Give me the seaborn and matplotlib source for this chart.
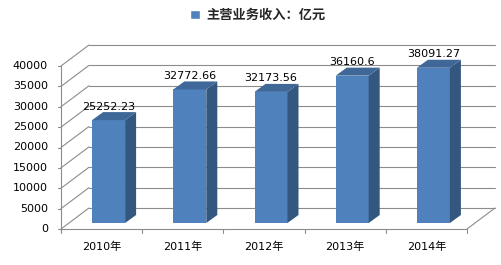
import numpy as np
import pandas as pd
import matplotlib
matplotlib.use("Agg")
import matplotlib.pyplot as plt
from matplotlib.patches import Polygon, Patch
from matplotlib.transforms import Affine2D
import seaborn as sns

# ---- data ----
years = ["2010年", "2011年", "2012年", "2013年", "2014年"]
revenue = [25252.23, 32772.66, 32173.56, 36160.6, 38091.27]
value_labels = ["25252.23", "32772.66", "32173.56", "36160.6", "38091.27"]
y_ticks = [0, 5000, 10000, 15000, 20000, 25000, 30000, 35000, 40000]
legend_label = "主营业务收入：亿元"

sns.set_theme(style="white")
plt.rcParams["font.family"] = ["DejaVu Sans", "Noto Sans CJK SC"]

W, H = 501, 265
fig = plt.figure(figsize=(W / 100, H / 100), dpi=100)
ax = fig.add_axes([0, 0, 1, 1])

# pixel geometry helpers
CAT_PX = 81.2            # pixels per category
X0_PX = 61               # left edge of category 0 (pixels)
Y0_PX = 229              # value 0 (pixels from top)
VPP = 40000 / 163        # value units per pixel
cpp = 1 / CAT_PX         # category units per pixel

front_c = "#4F81BD"
side_c = "#34577F"
top_c = "#3F6898"
grid_c = "#8C8C8C"

df = pd.DataFrame({"year": years, "revenue": revenue})
sns.barplot(data=df, x="year", y="revenue", color=front_c, saturation=1,
            width=33 / CAT_PX, ax=ax, edgecolor="none", linewidth=0, zorder=3)

# depth offsets
Dx, Dy = 28 * cpp, 21 * VPP           # full box depth
fdx, fdy = 7 * cpp, 6 * VPP           # bar front face offset
bdx, bdy = 11 * cpp, 8 * VPP          # bar depth

for p in ax.patches:
    p.set_transform(Affine2D().translate(fdx, fdy) + ax.transData)
    x0 = p.get_x() + fdx
    x1 = x0 + p.get_width()
    y0 = fdy
    y1 = p.get_height() + fdy
    ax.add_patch(Polygon([(x1, y0), (x1 + bdx, y0 + bdy), (x1 + bdx, y1 + bdy), (x1, y1)],
                         closed=True, facecolor=side_c, edgecolor="none", zorder=3))
    ax.add_patch(Polygon([(x0, y1), (x1, y1), (x1 + bdx, y1 + bdy), (x0 + bdx, y1 + bdy)],
                         closed=True, facecolor=top_c, edgecolor="none", zorder=3))

xl, xr = -0.5, len(years) - 0.5
lw = 0.8
# walls / gridlines
for v in y_ticks:
    ax.plot([xl, xl + Dx], [v, v + Dy], color=grid_c, lw=lw, zorder=1)
    ax.plot([xl + Dx, xr + Dx], [v + Dy, v + Dy], color=grid_c, lw=lw, zorder=1)
    ax.plot([xl - 3 * cpp, xl], [v, v], color=grid_c, lw=lw, zorder=1)
    ax.text(xl - 13 * cpp, v, f"{v}", ha="right", va="center", fontsize=8, color="black")
# floor right edge
ax.plot([xr, xr + Dx], [0, Dy], color=grid_c, lw=lw, zorder=1)
# front axes
ax.plot([xl, xl], [0 - 3 * VPP, y_ticks[-1]], color=grid_c, lw=lw, zorder=1)
ax.plot([xl, xr], [0, 0], color=grid_c, lw=lw, zorder=1)
for i in range(len(years) + 1):
    ax.plot([xl + i, xl + i], [0, -4 * VPP], color=grid_c, lw=lw, zorder=1)

# category labels
for i, y in enumerate(years):
    ax.text(i, -18 * VPP, y, ha="center", va="center", fontsize=8, color="black")

# value labels
for i, (v, s) in enumerate(zip(revenue, value_labels)):
    ax.text(i + fdx, v + fdy + 13.5 * VPP, s, ha="center", va="center", fontsize=8, color="black")

ax.set_xlim((0 - X0_PX) * cpp - 0.5, (W - X0_PX) * cpp - 0.5)
ax.set_ylim(-(H - Y0_PX) * VPP, Y0_PX * VPP)
ax.axis("off")

leg = fig.legend(handles=[Patch(facecolor=front_c, label=legend_label)],
                 loc="center", bbox_to_anchor=(258 / W, 1 - 15 / H), frameon=False,
                 handlelength=0.75, handleheight=0.75, handletextpad=0.45,
                 prop={"family": ["Noto Sans CJK SC"], "size": 9.5, "weight": "bold"})

fig.savefig("out.png", dpi=100, facecolor="white")
